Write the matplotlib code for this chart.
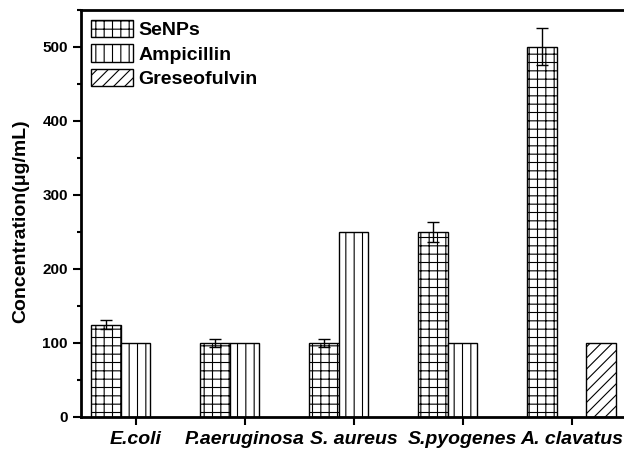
import matplotlib
matplotlib.use("Agg")
import matplotlib.pyplot as plt
import numpy as np
from matplotlib.ticker import MultipleLocator

categories = ["E.coli", "P.aeruginosa", "S. aureus", "S.pyogenes", "A. clavatus"]
senps = [125, 100, 100, 250, 500]
senps_err = [6, 5, 5, 13, 25]
ampicillin = [100, 100, 250, 100, np.nan]
greseofulvin = [np.nan, np.nan, np.nan, np.nan, 100]

plt.rcParams['font.family'] = ['Liberation Sans', 'DejaVu Sans']
plt.rcParams['hatch.linewidth'] = 0.8

fig = plt.figure(figsize=(6.24, 4.5), dpi=100)
ax = fig.add_axes([81/624, 33/450, 545/624, 407/450])

x = np.arange(1, len(categories) + 1)
w = 0.27
ax.bar(x - w, senps, w, yerr=senps_err, color='white', edgecolor='black', hatch='++',
       linewidth=1, label='SeNPs', error_kw=dict(ecolor='black', elinewidth=1, capsize=4, capthick=1))
ax.bar(x, ampicillin, w, color='white', edgecolor='black', hatch='||', linewidth=1, label='Ampicillin')
ax.bar(x + w, greseofulvin, w, color='white', edgecolor='black', hatch='///', linewidth=1, label='Greseofulvin')

ax.set_xlim(0.5, 5.5)
ax.set_ylim(0, 550)
ax.set_xticks(x)
ax.set_xticklabels(categories, fontsize=14, fontweight='bold', fontstyle='italic')
ax.yaxis.set_major_locator(MultipleLocator(100))
ax.yaxis.set_minor_locator(MultipleLocator(50))
for lab in ax.get_yticklabels():
    lab.set_fontweight('bold')
    lab.set_fontsize(11)
ax.tick_params(axis='both', which='major', direction='out', length=6, width=1.5)
ax.tick_params(axis='y', which='minor', direction='out', length=3, width=1.5)
ax.tick_params(axis='x', pad=4)
for s in ax.spines.values():
    s.set_linewidth(2)

ax.set_ylabel('Concentration(\u03bcg/mL)', fontsize=14, fontweight='bold')
ax.yaxis.set_label_coords(-52/545, 0.482)

leg = ax.legend(loc='upper left', frameon=False, prop={'weight': 'bold', 'size': 14},
                handlelength=2.15, handleheight=1.0, borderaxespad=0.1, labelspacing=0.27,
                handletextpad=0.3)

fig.savefig('out.png', dpi=100)
